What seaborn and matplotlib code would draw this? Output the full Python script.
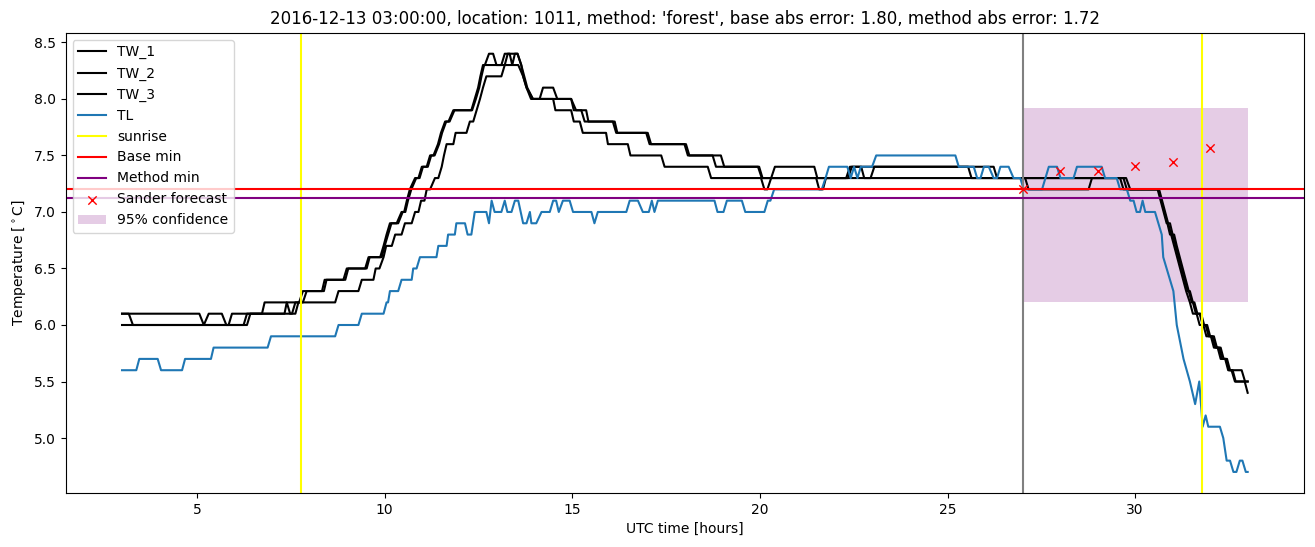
import matplotlib
matplotlib.use("Agg")
import matplotlib.pyplot as plt
import numpy as np
import pandas as pd
import seaborn as sns

# ---- data (vertices: (hours, temperature)) ----
tw1 = [(3.0, 6.1), (5.06, 6.1), (5.18, 6.0), (5.31, 6.1), (5.66, 6.1), (5.78, 6.0), (5.84, 6.0), (5.93, 6.1),
       (6.73, 6.1), (6.80, 6.2), (7.39, 6.2), (7.48, 6.1), (7.53, 6.1), (7.62, 6.2), (7.72, 6.2), (7.82, 6.3),
       (8.33, 6.3), (8.40, 6.4), (8.90, 6.4), (8.99, 6.5), (9.48, 6.5), (9.57, 6.6), (9.88, 6.6), (9.97, 6.7),
       (10.05, 6.8), (10.14, 6.9), (10.32, 6.9), (10.45, 7.0), (10.52, 7.0), (10.59, 7.1), (10.67, 7.2),
       (10.81, 7.3), (10.90, 7.3), (10.99, 7.4), (11.12, 7.4), (11.21, 7.5), (11.30, 7.5), (11.42, 7.6),
       (11.50, 7.7), (11.61, 7.8), (11.70, 7.8), (11.83, 7.9), (12.31, 7.9), (12.40, 8.0), (12.49, 8.1),
       (12.55, 8.2), (12.62, 8.3), (12.67, 8.3), (12.78, 8.4), (12.89, 8.4), (12.98, 8.3), (13.11, 8.3),
       (13.20, 8.4), (13.54, 8.4), (13.64, 8.3), (13.69, 8.2), (13.78, 8.1), (13.90, 8.0), (14.13, 8.0),
       (14.22, 8.1), (14.49, 8.1), (14.60, 8.0), (14.97, 8.0), (15.04, 7.9), (15.24, 7.9), (15.33, 7.8),
       (16.13, 7.8), (16.20, 7.7), (16.97, 7.7), (17.06, 7.6), (17.99, 7.6), (18.08, 7.5), (18.74, 7.5),
       (18.83, 7.4), (19.98, 7.4), (20.07, 7.3), (20.30, 7.3), (20.40, 7.4), (21.45, 7.4), (21.53, 7.3),
       (22.30, 7.3), (22.40, 7.4), (22.70, 7.4), (22.78, 7.3), (22.95, 7.3), (23.05, 7.4), (25.55, 7.4),
       (25.64, 7.3), (29.60, 7.3), (29.69, 7.2), (30.60, 7.2), (30.68, 7.1), (30.76, 7.0), (30.84, 6.9),
       (30.93, 6.9), (31.00, 6.8), (31.08, 6.7), (31.16, 6.6), (31.24, 6.5), (31.32, 6.4), (31.40, 6.3),
       (31.46, 6.3), (31.54, 6.2), (31.62, 6.1), (31.72, 6.1), (31.80, 6.0), (31.88, 6.0), (31.96, 5.9),
       (32.06, 5.9), (32.14, 5.8), (32.24, 5.8), (32.32, 5.7), (32.40, 5.7), (32.48, 5.6), (32.57, 5.6),
       (32.66, 5.5), (32.92, 5.5), (33.0, 5.4)]

tw2 = [(3.0, 6.1), (3.18, 6.1), (3.29, 6.0), (6.24, 6.0), (6.33, 6.1), (7.33, 6.1), (7.39, 6.2), (7.82, 6.2),
       (7.92, 6.3), (8.38, 6.3), (8.45, 6.4), (8.95, 6.4), (9.03, 6.5), (9.52, 6.5), (9.60, 6.6), (9.92, 6.6),
       (10.00, 6.7), (10.09, 6.8), (10.18, 6.9), (10.36, 6.9), (10.48, 7.0), (10.55, 7.0), (10.62, 7.1),
       (10.71, 7.2), (10.84, 7.3), (10.93, 7.3), (11.02, 7.4), (11.15, 7.4), (11.24, 7.5), (11.33, 7.5),
       (11.45, 7.6), (11.53, 7.7), (11.64, 7.8), (11.73, 7.8), (11.86, 7.9), (12.33, 7.9), (12.43, 8.0),
       (12.52, 8.1), (12.58, 8.2), (12.65, 8.3), (13.20, 8.3), (13.28, 8.4), (13.33, 8.4), (13.40, 8.3),
       (13.47, 8.4), (13.54, 8.4), (13.64, 8.3), (13.72, 8.2), (13.80, 8.1), (13.95, 8.0), (14.97, 8.0),
       (15.10, 7.9), (15.37, 7.9), (15.43, 7.8), (16.08, 7.8), (16.17, 7.7), (17.01, 7.7), (17.10, 7.6),
       (18.03, 7.6), (18.12, 7.5), (18.96, 7.5), (19.05, 7.4), (19.95, 7.4), (20.05, 7.3), (22.35, 7.3),
       (22.45, 7.4), (26.23, 7.4), (26.32, 7.3), (29.69, 7.3), (29.78, 7.2), (30.62, 7.2), (30.70, 7.1),
       (30.78, 7.0), (30.86, 6.9), (30.93, 6.8), (31.04, 6.8), (31.11, 6.7), (31.19, 6.6), (31.27, 6.5),
       (31.35, 6.4), (31.43, 6.3), (31.51, 6.2), (31.58, 6.2), (31.66, 6.1), (31.76, 6.1), (31.84, 6.0),
       (31.92, 6.0), (32.00, 5.9), (32.10, 5.9), (32.18, 5.8), (32.28, 5.8), (32.36, 5.7), (32.45, 5.7),
       (32.53, 5.6), (32.60, 5.6), (32.68, 5.5), (33.0, 5.5)]

tw3 = [(3.0, 6.0), (6.33, 6.0), (6.42, 6.1), (7.62, 6.1), (7.70, 6.2), (8.68, 6.2), (8.77, 6.3), (9.30, 6.3),
       (9.39, 6.4), (9.70, 6.4), (9.76, 6.5), (9.86, 6.5), (9.97, 6.6), (10.04, 6.7), (10.19, 6.7),
       (10.28, 6.8), (10.45, 6.8), (10.54, 6.9), (10.72, 6.9), (10.81, 7.0), (10.90, 7.0), (10.97, 7.1),
       (11.06, 7.1), (11.12, 7.2), (11.21, 7.2), (11.34, 7.3), (11.43, 7.3), (11.52, 7.4), (11.58, 7.5),
       (11.65, 7.6), (11.83, 7.6), (11.89, 7.7), (12.18, 7.7), (12.27, 7.8), (12.36, 7.8), (12.45, 7.9),
       (12.54, 8.0), (12.62, 8.1), (12.71, 8.2), (13.11, 8.2), (13.20, 8.3), (13.56, 8.3), (13.69, 8.2),
       (13.78, 8.1), (13.95, 8.0), (14.49, 8.0), (14.55, 7.9), (14.97, 7.9), (15.04, 7.8), (15.20, 7.8),
       (15.28, 7.7), (15.90, 7.7), (15.95, 7.6), (16.48, 7.6), (16.55, 7.5), (17.37, 7.5), (17.46, 7.4),
       (18.61, 7.4), (18.70, 7.3), (20.03, 7.3), (20.12, 7.2), (20.20, 7.2), (20.30, 7.3), (21.50, 7.3),
       (21.58, 7.2), (21.68, 7.2), (21.76, 7.3), (27.07, 7.3), (27.16, 7.2), (28.76, 7.2), (28.85, 7.3),
       (29.76, 7.3), (29.87, 7.2), (30.64, 7.2), (30.72, 7.1), (30.80, 7.0), (30.88, 6.9), (30.96, 6.8),
       (31.04, 6.7), (31.12, 6.6), (31.20, 6.5), (31.28, 6.4), (31.36, 6.3), (31.46, 6.2), (31.54, 6.1),
       (31.64, 6.1), (31.72, 6.0), (31.82, 6.0), (31.90, 5.9), (32.02, 5.9), (32.10, 5.8), (32.20, 5.8),
       (32.28, 5.7), (32.42, 5.7), (32.50, 5.6), (32.84, 5.6), (32.93, 5.5), (33.0, 5.5)]

tl = [(3.0, 5.6), (3.38, 5.6), (3.46, 5.7), (3.95, 5.7), (4.04, 5.6), (4.60, 5.6), (4.68, 5.7), (5.37, 5.7),
      (5.44, 5.8), (6.88, 5.8), (6.97, 5.9), (8.68, 5.9), (8.77, 6.0), (9.30, 6.0), (9.39, 6.1), (9.97, 6.1),
      (10.05, 6.2), (10.09, 6.2), (10.14, 6.3), (10.36, 6.3), (10.45, 6.4), (10.72, 6.4), (10.76, 6.5),
      (10.85, 6.5), (10.94, 6.6), (11.38, 6.6), (11.43, 6.7), (11.65, 6.7), (11.69, 6.8), (11.87, 6.8),
      (11.91, 6.9), (12.14, 6.9), (12.21, 6.8), (12.31, 6.8), (12.40, 7.0), (12.71, 7.0), (12.78, 6.9),
      (12.85, 7.1), (12.93, 7.0), (13.11, 7.0), (13.20, 7.1), (13.27, 7.0), (13.38, 7.0), (13.47, 7.1),
      (13.56, 7.1), (13.69, 6.9), (13.78, 6.9), (13.87, 7.0), (13.91, 6.9), (14.04, 6.9), (14.18, 7.0),
      (14.40, 7.0), (14.49, 7.1), (14.57, 7.1), (14.64, 7.0), (14.75, 7.1), (14.93, 7.1), (15.02, 7.0),
      (15.51, 7.0), (15.59, 6.9), (15.68, 7.0), (16.44, 7.0), (16.53, 7.1), (16.75, 7.1), (16.88, 7.0),
      (17.04, 7.0), (17.12, 7.1), (17.19, 7.0), (17.28, 7.1), (18.79, 7.1), (18.87, 7.0), (19.03, 7.0),
      (19.12, 7.1), (19.52, 7.1), (19.61, 7.0), (20.12, 7.0), (20.21, 7.1), (20.28, 7.1), (20.38, 7.2),
      (21.65, 7.2), (21.75, 7.3), (21.84, 7.4), (22.33, 7.4), (22.42, 7.3), (22.51, 7.4), (22.60, 7.3),
      (22.69, 7.4), (22.99, 7.4), (23.10, 7.5), (25.21, 7.5), (25.30, 7.4), (25.70, 7.4), (25.79, 7.3),
      (25.88, 7.3), (25.97, 7.4), (26.10, 7.4), (26.23, 7.3), (26.32, 7.3), (26.41, 7.4), (26.63, 7.4),
      (26.76, 7.3), (26.94, 7.3), (27.03, 7.2), (27.52, 7.2), (27.61, 7.3), (27.70, 7.4), (27.92, 7.4),
      (28.01, 7.3), (28.36, 7.3), (28.45, 7.4), (29.11, 7.4), (29.20, 7.3), (29.51, 7.3), (29.60, 7.2),
      (29.78, 7.2), (29.87, 7.1), (29.96, 7.1), (30.04, 7.0), (30.13, 7.0), (30.20, 7.1), (30.27, 7.0),
      (30.53, 7.0), (30.62, 6.9), (30.71, 6.8), (30.75, 6.6), (30.93, 6.4), (31.02, 6.3), (31.11, 6.0),
      (31.29, 5.7), (31.46, 5.5), (31.60, 5.3), (31.71, 5.5), (31.80, 5.1), (31.88, 5.2), (31.95, 5.1),
      (32.26, 5.1), (32.35, 5.0), (32.44, 4.8), (32.53, 4.8), (32.62, 4.7), (32.70, 4.7), (32.79, 4.8),
      (32.86, 4.8), (32.95, 4.7), (33.0, 4.7)]

sunrise_hours = [7.78, 31.78]
forecast_start = 27.0
base_min = 7.20
method_min = 7.12
sander_hours = [27, 28, 29, 30, 31, 32]
sander_temps = [7.20, 7.36, 7.36, 7.41, 7.44, 7.57]
conf_hours = [27.0, 33.0]
conf_low = 6.20
conf_high = 7.92
title = ("2016-12-13 03:00:00, location: 1011, method: 'forest', "
         "base abs error: 1.80, method abs error: 1.72")

# ---- plotting ----
fig, ax = plt.subplots(figsize=(13.15, 5.47), dpi=100)
fig.subplots_adjust(left=0.050, right=0.9916, top=0.94, bottom=0.099)

for name, pts in [("TW_1", tw1), ("TW_2", tw2), ("TW_3", tw3)]:
    df = pd.DataFrame(pts, columns=["t", "v"])
    sns.lineplot(data=df, x="t", y="v", color="black", label=name, ax=ax,
                 sort=False, estimator=None, linewidth=1.5)

df_tl = pd.DataFrame(tl, columns=["t", "v"])
sns.lineplot(data=df_tl, x="t", y="v", color="#1f77b4", label="TL", ax=ax,
             sort=False, estimator=None, linewidth=1.5)

ax.axvline(sunrise_hours[0], color="yellow", label="sunrise")
ax.axvline(sunrise_hours[1], color="yellow")
ax.axvline(forecast_start, color="grey")
ax.axhline(base_min, color="red", label="Base min")
ax.axhline(method_min, color="purple", label="Method min")

sns.scatterplot(x=sander_hours, y=sander_temps, marker="x", color="red", s=36,
                linewidth=1.0, label="Sander forecast", ax=ax, zorder=4)
ax.fill_between(conf_hours, conf_low, conf_high, color="purple", alpha=0.2,
                linewidth=0, label="95% confidence", zorder=1)

ax.set_title(title)
ax.set_xlabel("UTC time [hours]")
ax.set_ylabel("Temperature [$^\\circ$C]")
ax.legend(loc="upper left")

fig.savefig("out.png", dpi=100)
